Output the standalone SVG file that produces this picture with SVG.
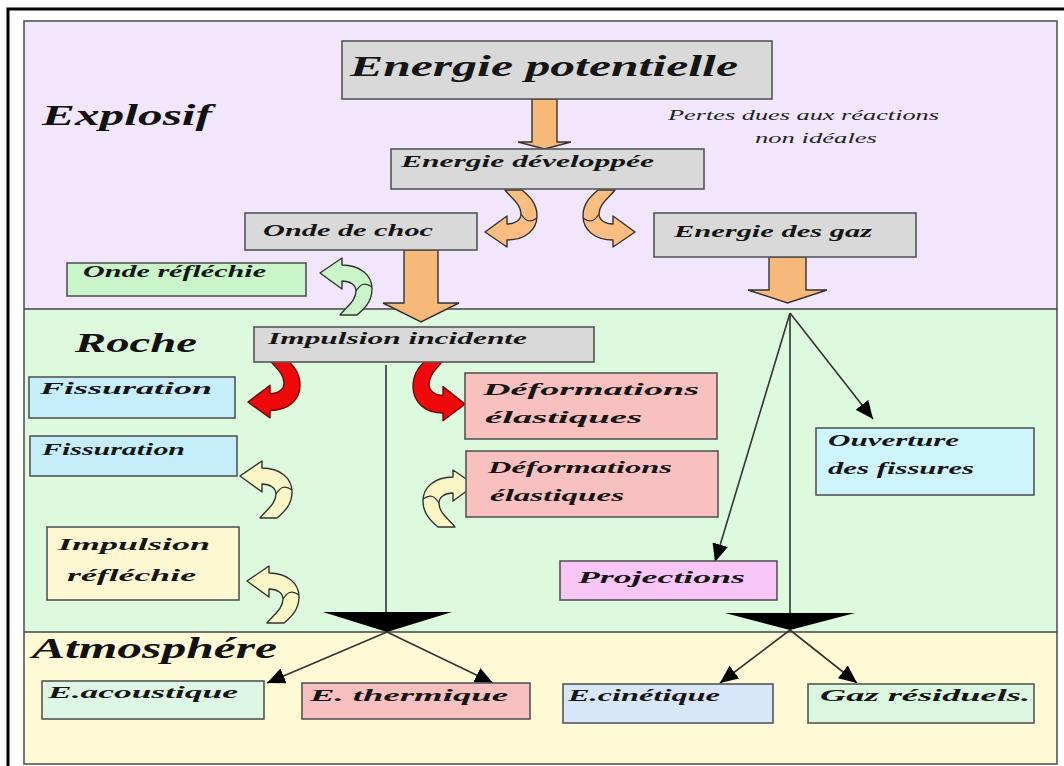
<svg xmlns="http://www.w3.org/2000/svg" xmlns:xlink="http://www.w3.org/1999/xlink" width="1064" height="766" viewBox="0 0 1064 766">
<style>
.box{stroke:#555;stroke-width:1.6}
.gray{fill:#d9d9d9}
.t{font-family:"Liberation Serif","DejaVu Serif",serif;font-style:italic;font-weight:bold;fill:#151515}
.tl{font-family:"Liberation Serif","DejaVu Serif",serif;font-style:italic;fill:#222}
.ttl{font-family:"Liberation Serif","DejaVu Serif",serif;font-style:italic;font-weight:bold;fill:#111}
.blk{fill:#f6b97a;stroke:#333;stroke-width:1.4}
.line{stroke:#333;stroke-width:1.6;fill:none}
.cv{stroke:#333;stroke-width:1.4;stroke-linejoin:round}
.fold{fill:none;stroke:#333;stroke-width:1.2}
.org{fill:#fbbd80}
.red{fill:#ee0a0a;stroke:#7a0000}
.crm{fill:#fbf6c6}
.grn{fill:#c9f5c9}
</style>
<defs>
<marker id="ah" markerUnits="userSpaceOnUse" markerWidth="20" markerHeight="16" refX="18" refY="8" orient="auto">
<path d="M0,0 L18,8 L0,16 Z" fill="#000"/>
</marker>
<path id="curl" d="M20,0 L37,0 C44,6 52,13 52,26 C52,40 40,50 22,50 L22,57 L0,42 L22,26 L22,34 C30,34 36,30 36,24 C36,14 26,8 20,0 Z"/>
<path id="fold" d="M36,24 C40,30 44,34 52,28"/>
</defs>

<!-- outer frame -->
<path d="M8,766 L8,9 L1064,9" fill="none" stroke="#000" stroke-width="3"/>

<!-- bands -->
<g id="bands">
<rect x="24" y="21" width="1033" height="288" fill="#f1e6fb"/>
<rect x="24" y="309" width="1033" height="323" fill="#defade"/>
<rect x="24" y="632" width="1033" height="132" fill="#fefad6"/>
<rect x="24" y="21" width="1033" height="743" fill="none" stroke="#555" stroke-width="1.6"/>
<line x1="24" y1="309" x2="1057" y2="309" stroke="#444" stroke-width="1.6"/>
<line x1="24" y1="632" x2="1057" y2="632" stroke="#444" stroke-width="1.6"/>
</g>

<!-- section titles -->
<g id="titles">
<text class="ttl" x="42" y="125" font-size="30" textLength="170" lengthAdjust="spacingAndGlyphs">Explosif</text>
<text class="ttl" x="75" y="352" font-size="28" textLength="122" lengthAdjust="spacingAndGlyphs">Roche</text>
<text class="ttl" x="32" y="658" font-size="30" textLength="245" lengthAdjust="spacingAndGlyphs">Atmosphére</text>
<text class="tl" x="668" y="120" font-size="15" textLength="271" lengthAdjust="spacingAndGlyphs">Pertes dues aux réactions</text>
<text class="tl" x="755" y="143" font-size="15" textLength="122" lengthAdjust="spacingAndGlyphs">non idéales</text>
</g>

<!-- connectors -->
<g id="connectors">
<polygon class="blk" points="532,99 557,99 557,142 571,142 544.5,149 518,142 532,142"/>
<polygon class="blk" points="404,250 438,250 438,303 459,303 421,322 383,303 404,303"/>
<polygon class="blk" points="769,257 806,257 806,290 827,290 787.5,303 748,290 769,290"/>

<g transform="translate(485,190)"><use xlink:href="#curl" class="cv org"/><use xlink:href="#fold" class="fold"/></g>
<g transform="translate(635,190) scale(-1,1)"><use xlink:href="#curl" class="cv org"/><use xlink:href="#fold" class="fold"/></g>
<g transform="translate(320,315) scale(1,-1)"><use xlink:href="#curl" class="cv grn"/><use xlink:href="#fold" class="fold"/></g>
<g transform="translate(248,358) scale(1,1.05)"><use xlink:href="#curl" class="cv red"/></g>
<g transform="translate(465,358) scale(-1,1.1)"><use xlink:href="#curl" class="cv red"/></g>
<g transform="translate(240,518) scale(1,-1)"><use xlink:href="#curl" class="cv crm"/><use xlink:href="#fold" class="fold"/></g>
<g transform="translate(475,527) scale(-1,-1)"><use xlink:href="#curl" class="cv crm"/><use xlink:href="#fold" class="fold"/></g>
<g transform="translate(247,623) scale(1,-1)"><use xlink:href="#curl" class="cv crm"/><use xlink:href="#fold" class="fold"/></g>

<line class="line" x1="386" y1="365" x2="386" y2="613"/>
<polygon points="323,612 452,612 387,632" fill="#000"/>
<line class="line" x1="387" y1="632" x2="267" y2="683" marker-end="url(#ah)"/>
<line class="line" x1="387" y1="632" x2="493" y2="683" marker-end="url(#ah)"/>

<line class="line" x1="790" y1="313" x2="790" y2="613"/>
<line class="line" x1="790" y1="313" x2="715" y2="562" marker-end="url(#ah)"/>
<line class="line" x1="790" y1="313" x2="873" y2="419" marker-end="url(#ah)"/>
<polygon points="725,613 855,613 790,630" fill="#000"/>
<line class="line" x1="790" y1="630" x2="720" y2="683" marker-end="url(#ah)"/>
<line class="line" x1="790" y1="630" x2="857" y2="683" marker-end="url(#ah)"/>
</g>

<!-- nodes -->
<g id="n-energie-potentielle">
<rect class="box gray" x="342" y="41" width="430" height="58"/>
<text class="t" x="350" y="76" font-size="30" textLength="388" lengthAdjust="spacingAndGlyphs">Energie potentielle</text>
</g>
<g id="n-energie-developpee">
<rect class="box gray" x="391" y="149" width="313" height="40"/>
<text class="t" x="401" y="167" font-size="17" textLength="253" lengthAdjust="spacingAndGlyphs">Energie développée</text>
</g>
<g id="n-onde-choc">
<rect class="box gray" x="245" y="213" width="232" height="37"/>
<text class="t" x="263" y="236" font-size="17" textLength="170" lengthAdjust="spacingAndGlyphs">Onde de choc</text>
</g>
<g id="n-energie-gaz">
<rect class="box gray" x="654" y="213" width="262" height="44"/>
<text class="t" x="674" y="237" font-size="17" textLength="198" lengthAdjust="spacingAndGlyphs">Energie des gaz</text>
</g>
<g id="n-onde-reflechie">
<rect class="box" fill="#c9f5c9" x="67" y="263" width="239" height="33"/>
<text class="t" x="83" y="277" font-size="17" textLength="183" lengthAdjust="spacingAndGlyphs">Onde réfléchie</text>
</g>
<g id="n-impulsion-incidente">
<rect class="box gray" x="254" y="327" width="340" height="35"/>
<text class="t" x="268" y="344" font-size="17" textLength="259" lengthAdjust="spacingAndGlyphs">Impulsion incidente</text>
</g>
<g id="n-fissuration-1">
<rect class="box" fill="#c6eefa" x="29" y="377" width="206" height="41"/>
<text class="t" x="40" y="394" font-size="17" textLength="172" lengthAdjust="spacingAndGlyphs">Fissuration</text>
</g>
<g id="n-fissuration-2">
<rect class="box" fill="#c6eefa" x="30" y="436" width="207" height="40"/>
<text class="t" x="42" y="455" font-size="16" textLength="143" lengthAdjust="spacingAndGlyphs">Fissuration</text>
</g>
<g id="n-impulsion-reflechie">
<rect class="box" fill="#fdf8d2" x="47" y="527" width="192" height="73"/>
<text class="t" x="58" y="550" font-size="17" textLength="152" lengthAdjust="spacingAndGlyphs">Impulsion</text>
<text class="t" x="67" y="581" font-size="17" textLength="129" lengthAdjust="spacingAndGlyphs">réfléchie</text>
</g>
<g id="n-deformations-1">
<rect class="box" fill="#f9c0c0" x="465" y="373" width="252" height="66"/>
<text class="t" x="483" y="395" font-size="17" textLength="216" lengthAdjust="spacingAndGlyphs">Déformations</text>
<text class="t" x="485" y="423" font-size="17" textLength="157" lengthAdjust="spacingAndGlyphs">élastiques</text>
</g>
<g id="n-deformations-2">
<rect class="box" fill="#f9c0c0" x="466" y="451" width="252" height="66"/>
<text class="t" x="488" y="473" font-size="16" textLength="184" lengthAdjust="spacingAndGlyphs">Déformations</text>
<text class="t" x="490" y="501" font-size="16" textLength="134" lengthAdjust="spacingAndGlyphs">élastiques</text>
</g>
<g id="n-ouverture">
<rect class="box" fill="#cdf5fb" x="816" y="428" width="218" height="67"/>
<text class="t" x="828" y="446" font-size="17" textLength="131" lengthAdjust="spacingAndGlyphs">Ouverture</text>
<text class="t" x="828" y="474" font-size="17" textLength="146" lengthAdjust="spacingAndGlyphs">des fissures</text>
</g>
<g id="n-projections">
<rect class="box" fill="#f7c6f7" x="560" y="561" width="217" height="39"/>
<text class="t" x="578" y="583" font-size="17" textLength="167" lengthAdjust="spacingAndGlyphs">Projections</text>
</g>
<g id="n-acoustique">
<rect class="box" fill="#def6e4" x="42" y="681" width="222" height="38"/>
<text class="t" x="48" y="698" font-size="17" textLength="190" lengthAdjust="spacingAndGlyphs">E.acoustique</text>
</g>
<g id="n-thermique">
<rect class="box" fill="#f9c0c0" x="302" y="683" width="228" height="36"/>
<text class="t" x="310" y="701" font-size="17" textLength="198" lengthAdjust="spacingAndGlyphs">E. thermique</text>
</g>
<g id="n-cinetique">
<rect class="box" fill="#d8e6fa" x="563" y="684" width="210" height="39"/>
<text class="t" x="568" y="701" font-size="17" textLength="152" lengthAdjust="spacingAndGlyphs">E.cinétique</text>
</g>
<g id="n-gaz-residuels">
<rect class="box" fill="#dcf7df" x="808" y="684" width="226" height="39"/>
<text class="t" x="820" y="701" font-size="17" textLength="210" lengthAdjust="spacingAndGlyphs">Gaz résiduels.</text>
</g>
</svg>
